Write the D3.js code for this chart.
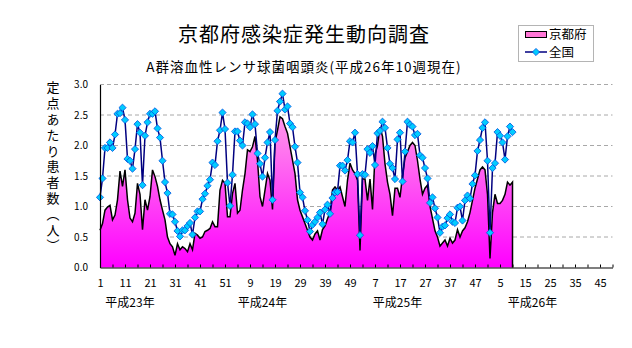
<!DOCTYPE html>
<html><head><meta charset="utf-8">
<script src="https://cdn.jsdelivr.net/npm/d3@7"></script>
<style>
html,body{margin:0;padding:0;background:#fff;}
svg{display:block;}
text{font-family:"Noto Sans CJK JP","Noto Sans",sans-serif;fill:#000;}
</style></head>
<body><svg id="c" width="632" height="348"></svg>
<script>
// ---- data (week index 1 = 平成23年 第1週) ----
const kyoto = [0.61,0.72,0.94,0.99,1.02,0.78,0.86,1.11,1.58,1.33,1.60,1.11,0.81,0.75,0.89,1.38,1.20,0.62,1.11,0.94,
1.16,1.60,1.49,1.33,1.11,0.94,0.78,0.50,0.39,0.34,0.20,0.39,0.29,0.34,0.31,0.26,0.39,0.29,0.56,0.53,
0.48,0.50,0.59,0.61,0.64,0.75,0.67,0.67,1.27,1.43,1.38,0.83,0.83,1.21,1.38,0.89,0.94,1.27,1.54,1.93,
1.90,1.98,2.15,1.76,1.16,1.00,1.27,1.54,1.43,0.95,2.05,2.25,2.47,2.44,2.31,2.20,1.98,1.76,1.54,1.11,
0.94,0.83,0.72,0.61,0.50,0.45,0.55,0.60,0.45,0.62,0.68,0.80,0.90,1.27,1.32,1.27,1.32,1.16,1.00,1.43,
1.71,1.60,1.54,1.43,0.28,1.45,1.45,1.10,1.45,0.95,1.85,2.00,2.30,2.15,1.70,1.40,1.20,0.85,1.30,1.30,
1.15,1.50,1.80,1.90,2.00,2.05,2.00,1.75,1.45,1.20,1.30,1.35,1.00,0.80,0.60,0.50,0.35,0.40,0.45,0.35,
0.48,0.40,0.45,0.62,0.50,0.60,0.65,0.75,0.90,1.10,1.30,1.45,1.60,1.65,1.60,1.20,0.15,0.90,1.20,1.05,
1.05,1.10,1.20,1.40,1.35,1.40];
const national = [1.15,1.46,1.96,1.96,2.05,1.96,2.18,2.52,2.53,2.62,2.42,1.78,1.75,1.62,1.94,2.35,2.21,1.35,2.16,2.38,
2.52,2.52,2.56,2.28,2.13,1.75,1.40,1.22,0.88,0.87,0.75,0.60,0.51,0.61,0.61,0.68,0.73,0.54,0.82,0.92,
0.92,1.12,1.21,1.34,1.44,1.72,1.68,2.07,2.25,2.54,2.27,1.39,1.01,1.52,2.23,2.23,2.08,2.00,2.38,2.36,
2.30,2.51,2.35,1.87,1.70,1.49,1.80,2.05,2.22,1.11,2.09,2.57,2.72,2.85,2.59,2.64,2.36,2.30,1.98,1.72,
1.23,1.15,0.93,0.78,0.59,0.70,0.75,0.82,0.90,0.71,0.95,1.03,0.88,1.14,1.23,1.24,1.67,1.67,1.59,1.76,
2.07,2.05,2.21,1.53,0.53,1.53,1.52,1.94,1.88,1.99,1.68,2.20,2.24,2.39,2.29,1.96,1.70,1.63,1.45,2.10,
2.21,1.41,1.90,2.39,2.34,2.31,2.17,2.19,1.84,1.80,1.63,1.46,1.06,1.15,0.97,0.82,0.57,0.67,0.69,0.81,
0.87,0.75,0.73,0.98,1.00,0.77,1.10,1.18,1.13,1.37,1.51,1.91,2.09,2.29,2.38,1.75,0.57,1.63,1.71,2.22,
2.16,2.05,1.77,2.15,2.31,2.22];
const weeksPerYear = 52;
const axisWeeks = 206;                 // category slots on the x axis
const yTicks = [0,0.5,1.0,1.5,2.0,2.5,3.0];
const years = ["平成23年","平成24年","平成25年","平成26年"];
const yearLabelWeek = [13,66,120,174];  // index where each year label is centred
const title = "京都府感染症発生動向調査";
const subtitle = "A群溶血性レンサ球菌咽頭炎(平成26年10週現在)";
const yTitle = "定点あたり患者数（人）";
const seriesNames = ["京都府","全国"];

// ---- layout ----
const svg = d3.select("#c");
const L = 100, R = 612.5, T = 84.5, B = 267.5;
const x = d3.scaleLinear().domain([1, axisWeeks]).range([L, R]);
const y = d3.scaleLinear().domain([0, 3]).range([B, T]);

const defs = svg.append("defs");
const g1 = defs.append("linearGradient").attr("id","pk")
  .attr("gradientUnits","userSpaceOnUse").attr("x1",0).attr("x2",0).attr("y1",T).attr("y2",B);
g1.append("stop").attr("offset",0).attr("stop-color","#FFB8E6");
g1.append("stop").attr("offset",1).attr("stop-color","#FF00FF");

// gridlines
svg.append("g").selectAll("line").data(yTicks.filter(d=>d>0)).join("line")
  .attr("x1",L).attr("x2",R).attr("y1",d=>y(d)).attr("y2",d=>y(d))
  .attr("stroke","#A8A8A8").attr("stroke-width",1).attr("stroke-dasharray","4,3");

// area
const kd = kyoto.map((v,i)=>({i:i+1,v}));
const area = d3.area().x(d=>x(d.i)).y0(B).y1(d=>y(d.v));
svg.append("path").datum(kd).attr("d",area).attr("fill","url(#pk)");
const outline = d3.line().x(d=>x(d.i)).y(d=>y(d.v));
const last = kd[kd.length-1];
svg.append("path").datum(kd.concat([{i:last.i,v:0}])).attr("d",outline)
  .attr("fill","none").attr("stroke","#000").attr("stroke-width",1.5).attr("stroke-linejoin","miter");

// national line
const nd = national.map((v,i)=>({i:i+1,v}));
svg.append("path").datum(nd).attr("d",outline)
  .attr("fill","none").attr("stroke","#000080").attr("stroke-width",1.5);
const dia = (cx,cy,r)=>`M${cx},${cy-r}L${cx+r},${cy}L${cx},${cy+r}L${cx-r},${cy}Z`;
svg.append("g").selectAll("path").data(nd).join("path")
  .attr("d",d=>dia(x(d.i),y(d.v),3.6))
  .attr("fill","#00CCFF").attr("stroke","#0050E0").attr("stroke-width",0.8);

// y axis
const ya = svg.append("g").attr("transform",`translate(${L},0)`)
  .call(d3.axisLeft(y).tickValues(yTicks).tickFormat(d3.format(".1f")).tickSize(0).tickPadding(12));
ya.select(".domain").attr("stroke","#000").attr("stroke-width",1.2);
ya.selectAll("text").attr("font-size",10).attr("font-family","'Liberation Sans',sans-serif");

// x axis ticks (every 5)
const tickIdx = d3.range(1, axisWeeks+1, 5);
const xa = svg.append("g").attr("transform",`translate(0,${B})`)
  .call(d3.axisBottom(x).tickValues(tickIdx).tickSize(-3).tickSizeOuter(0).tickFormat(""));
xa.select(".domain").attr("stroke","#000").attr("stroke-width",1.2);
xa.selectAll(".tick line").attr("stroke","#000");
// x labels (every 10)
const labIdx = d3.range(1, axisWeeks+1, 10);
const xl = svg.append("g").attr("transform",`translate(0,${B})`)
  .call(d3.axisBottom(x).tickValues(labIdx).tickSize(0).tickPadding(12)
    .tickFormat(d=>((d-1)%weeksPerYear)+1));
xl.select(".domain").remove();
xl.selectAll("text").attr("font-size",11).attr("font-family","'Liberation Sans',sans-serif");

// year labels
svg.append("g").selectAll("text").data(years).join("text")
  .attr("x",(d,k)=>x(yearLabelWeek[k])).attr("y",307)
  .attr("text-anchor","middle").attr("font-size",12).text(d=>d);

// titles
svg.append("text").attr("x",304).attr("y",42).attr("text-anchor","middle")
  .attr("font-size",20).attr("letter-spacing",1).text(title);
svg.append("text").attr("x",304).attr("y",72).attr("text-anchor","middle")
  .attr("font-size",13.5).attr("letter-spacing",1).text(subtitle);

// y title (vertical)
svg.append("text").attr("x",53).attr("y",81)
  .style("writing-mode","vertical-rl").attr("font-size",13).attr("letter-spacing",2.8)
  .text(yTitle);

// legend
const lg = svg.append("g");
lg.append("rect").attr("x",518.5).attr("y",25.5).attr("width",75).attr("height",36)
  .attr("fill","#fff").attr("stroke","#B4B4B4").attr("stroke-width",1);
lg.append("rect").attr("x",525.5).attr("y",31.5).attr("width",21).attr("height",6)
  .attr("fill","#FF77D6").attr("stroke","#000").attr("stroke-width",1);
lg.append("line").attr("x1",525).attr("x2",547).attr("y1",52).attr("y2",52)
  .attr("stroke","#000080").attr("stroke-width",1.5);
lg.append("path").attr("d",dia(536,52,3.6)).attr("fill","#00CCFF").attr("stroke","#0050E0").attr("stroke-width",0.8);
lg.selectAll("text.lt").data(seriesNames).join("text").attr("class","lt")
  .attr("x",549).attr("y",(d,k)=>[39,57][k]).attr("font-size",12.5).text(d=>d);
</script></body></html>
